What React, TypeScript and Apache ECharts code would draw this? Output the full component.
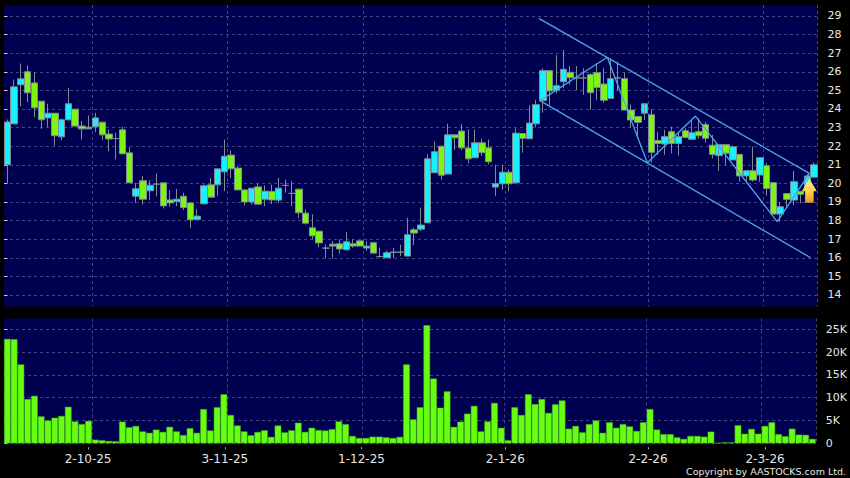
import React, { useEffect, useRef } from "react";
import * as echarts from "echarts";

const opens = [21.0,23.2,25.3,26.0,25.4,24.42,23.52,23.77,22.5,23.42,23.99,23.08,22.93,23.04,23.29,22.65,22.41,22.88,21.64,19.31,20.14,19.6,19.96,20.03,19.11,19.03,19.31,18.95,18.06,18.9,19.92,19.92,20.62,21.52,20.82,19.65,19.0,19.81,19.15,19.56,19.1,19.89,19.46,19.69,18.4,17.61,17.43,16.52,16.73,16.75,16.43,16.75,16.91,16.52,16.81,16.07,16.0,16.3,16.3,16.09,17.5,17.54,17.88,20.57,22.0,20.5,22.61,22.81,21.9,21.38,22.18,21.91,19.8,19.98,20.6,20.03,22.68,22.4,23.2,24.45,26.06,25.0,25.47,25.97,25.67,25.67,25.85,25.95,25.34,24.57,25.67,25.63,23.94,23.59,23.77,23.69,22.3,22.12,22.78,22.15,22.83,22.37,22.78,23.16,22.05,21.5,22.08,21.26,21.56,20.4,20.68,20.45,20.95,20.04,18.35,19.45,19.1,19.57,19.65,20.33];
const closes = [23.3,25.19,25.62,24.87,24.06,23.42,23.77,22.56,23.42,24.28,23.08,22.93,23.02,23.52,22.61,22.39,22.41,21.59,20.03,19.71,19.15,19.9,19.96,18.79,18.95,19.15,18.7,18.04,18.24,19.87,19.26,20.78,21.46,20.78,19.65,19.0,19.74,18.88,19.58,19.11,19.74,19.89,19.46,18.42,17.86,17.18,16.8,16.52,16.63,16.47,16.86,16.63,16.63,16.63,16.25,16.07,16.27,16.3,16.3,17.24,17.33,17.76,21.32,21.7,20.44,22.61,22.45,21.91,21.32,22.18,21.65,21.16,19.98,20.6,19.98,22.7,22.42,23.24,24.23,26.06,24.97,25.25,26.13,25.68,25.67,25.67,24.88,25.16,24.47,25.63,25.67,23.94,23.41,23.28,24.28,21.67,22.15,22.51,22.15,22.51,22.47,22.72,22.56,22.42,21.56,22.08,21.62,21.97,20.4,20.68,20.18,21.38,19.73,18.35,18.74,19.14,20.09,19.41,20.4,21.0];
const lows = [20.03,23.2,24.15,24.37,23.56,22.93,23.04,22.04,22.32,23.42,23.08,22.36,22.93,22.75,22.32,21.73,21.28,21.59,20.03,18.95,18.86,19.1,19.3,18.65,18.74,18.77,18.56,17.59,18.06,18.9,19.26,19.31,19.58,20.3,19.65,18.81,18.86,18.88,18.77,18.88,18.95,19.5,18.78,18.15,17.79,16.99,16.57,15.96,15.96,16.23,16.43,16.54,16.63,16.36,16.25,16.0,16.0,16.0,16.1,16.09,16.68,17.43,17.88,20.57,20.18,20.5,21.79,21.79,21.07,21.38,21.47,21.02,19.32,19.67,19.58,20.03,21.65,22.4,23.02,23.8,24.21,24.84,25.11,25.3,25.02,24.75,23.95,24.48,24.34,24.57,25.0,23.94,23.0,22.42,23.41,21.11,21.53,21.53,21.62,21.5,22.42,22.37,22.4,22.19,21.34,20.68,20.98,21.26,20.09,20.09,20.09,20.09,19.34,18.35,17.94,18.74,18.82,18.93,19.65,20.33];
const highs = [23.43,25.58,26.44,26.34,25.98,24.42,24.28,23.77,23.47,25.14,23.99,23.36,23.65,23.79,23.29,22.9,22.72,23.04,21.96,20.03,20.39,20.17,20.53,20.03,19.63,19.7,19.49,18.95,18.63,19.94,20.3,20.78,22.36,21.75,20.92,19.65,19.74,19.99,19.89,19.94,20.3,20.2,20.12,19.69,18.6,18.33,17.43,16.72,16.9,16.99,17.4,16.99,16.91,16.9,16.81,16.54,16.39,16.54,16.7,18.15,17.61,18.69,21.56,22.24,22.0,23.2,22.61,23.2,22.9,22.9,22.4,22.36,21.0,21.0,20.75,22.95,22.68,24.19,24.48,26.19,26.06,26.9,27.17,26.31,26.31,26.19,25.92,26.45,26.2,26.72,26.54,25.95,24.25,23.59,23.77,23.98,22.78,22.87,23.05,22.78,22.96,23.4,23.5,23.32,22.6,21.5,22.08,22.03,21.56,20.68,21.97,21.38,21.11,20.04,18.98,19.45,20.67,19.57,20.5,21.13];
const volumes = [22.9,22.8,17.3,9.7,10.4,5.9,5.0,5.6,6.0,8.0,4.8,4.2,4.9,0.8,0.65,0.5,0.45,4.75,3.5,3.8,2.6,2.3,3.0,2.5,3.6,2.6,1.8,3.3,2.3,7.5,2.8,7.9,10.75,6.2,3.9,2.6,1.75,2.5,2.85,1.4,3.9,2.4,2.85,4.5,2.5,3.4,2.9,2.8,3.1,4.8,4.2,1.6,1.15,1.15,1.45,1.45,1.3,1.15,1.4,17.3,5.25,7.9,25.9,14.2,7.8,11.4,3.6,4.75,6.5,8.2,2.6,4.8,8.85,3.4,0.65,7.9,6.2,10.75,8.6,9.7,6.65,8.55,9.4,3.2,3.8,2.4,4.2,5.0,2.3,4.6,3.4,4.2,3.7,2.7,4.6,7.5,3.0,2.0,2.0,1.3,0.95,1.6,1.6,1.45,2.55,0.1,0.2,0.2,3.95,2.1,3.15,2.1,3.8,4.6,2.0,1.55,3.2,1.9,1.85,0.95];

const priceTicks = [14,15,16,17,18,19,20,21,22,23,24,25,26,27,28,29];
const volumeTicks = [0,5,10,15,20,25];
const dateLabels = ["2-10-25","3-11-25","1-12-25","2-1-26","2-2-26","2-3-26"];
const dateTickSlots = [12.43,32.64,52.85,74.1,95.2,112.5];
const gridSlots = [13,33,53,74,95,112];

const channelUpper = [[78.9,28.87],[118.8,20.54]];
const channelLower = [[79.06,24.45],[119.0,16.0]];
const zigzag = [[79.06,24.45],[88.99,26.78],[94.9,21.11],[102,23.62],[114.06,17.94],[118.8,20.54]];
const arrowPoint = [[118.8,19.6]];

const PLOT = "#000050";
const GRIDLINE = "#44447c";
const TEXT = "#e6e6e6";
const FONT = "'DejaVu Sans', sans-serif";
const LINE = "#4aa8e0";

const categories = opens.map((_, i) => String(i));
const candles = opens.map((o, i) => [o, closes[i], lows[i], highs[i]]);
const dashed = { color: GRIDLINE, type: [3, 3] as any, width: 1 };

const overlay = (data: number[][]) => ({
  type: "line" as const,
  xAxisIndex: 2,
  yAxisIndex: 0,
  data,
  symbol: "none",
  silent: true,
  lineStyle: { color: LINE, width: 1.3 },
  z: 5,
});

export default function App() {
  const ref = useRef<HTMLDivElement>(null);
  useEffect(() => {
    document.body.style.margin = "0";
    document.body.style.background = "#000";
    const chart = echarts.init(ref.current!, undefined, { renderer: "svg" });
    const grids = [
      { left: 4, top: 5, width: 813.5, height: 301.5 },
      { left: 4, top: 318.5, width: 813.5, height: 124.8 },
    ];
    const catAxis = (gridIndex: number) => ({
      type: "category" as const,
      gridIndex,
      data: categories,
      boundaryGap: true,
      axisLine: { show: false },
      axisTick: { show: false },
      axisLabel: { show: false },
      splitLine: {
        show: true,
        lineStyle: dashed,
        interval: (i: number) => gridSlots.includes(i),
      },
    });
    const yLabel = {
      color: TEXT,
      fontFamily: FONT,
      fontSize: 11,
      margin: 6,
      padding: [2, 0, 0, 0],
    };
    chart.setOption({
      animation: false,
      backgroundColor: "#000",
      grid: grids.map((g) => ({ ...g, show: true, backgroundColor: PLOT, borderWidth: 0 })),
      xAxis: [
        catAxis(0),
        catAxis(1),
        { type: "value", gridIndex: 0, min: 0, max: 120, show: false, splitLine: { show: false } },
        {
          type: "value",
          gridIndex: 1,
          min: 0,
          max: 120,
          position: "bottom",
          offset: 4,
          axisLine: { show: false },
          splitLine: { show: false },
          axisTick: { show: true, length: 2, customValues: dateTickSlots, lineStyle: { color: "#b0b0b0" } },
          axisLabel: {
            show: true,
            customValues: dateTickSlots,
            formatter: (v: number) => dateLabels[dateTickSlots.indexOf(v)] ?? "",
            color: TEXT,
            fontFamily: FONT,
            fontSize: 12,
            margin: 6,
            hideOverlap: false,
          },
        },
      ],
      yAxis: [
        {
          type: "value",
          gridIndex: 0,
          position: "right",
          min: 13.38,
          max: 29.59,
          offset: 4,
          axisLine: { show: false },
          axisTick: { show: true, length: 3.5, customValues: priceTicks, lineStyle: { color: "#d0d0d0" } },
          splitLine: { show: true, lineStyle: dashed },
          axisLabel: { ...yLabel, customValues: priceTicks },
        },
        {
          type: "value",
          gridIndex: 1,
          position: "right",
          min: 0,
          max: 27.37,
          offset: 4,
          axisLine: { show: false },
          axisTick: { show: true, length: 3.5, customValues: volumeTicks, lineStyle: { color: "#d0d0d0" } },
          splitLine: { show: true, lineStyle: dashed },
          axisLabel: {
            ...yLabel,
            customValues: volumeTicks,
            formatter: (v: number) => (v === 0 ? "0" : `${v}K`),
          },
        },
      ],
      graphic: [
        {
          type: "text",
          right: 4,
          top: 466,
          style: {
            text: "Copyright by AASTOCKS.com Ltd.",
            fill: TEXT,
            font: `9.5px ${FONT}`,
          },
        },
      ],
      series: [
        {
          type: "candlestick",
          xAxisIndex: 0,
          yAxisIndex: 0,
          data: candles,
          barWidth: 7,
          itemStyle: {
            color: "#19f0ff",
            color0: "#7cf515",
            borderColor: "#808c94",
            borderColor0: "#808c94",
            borderColorDoji: "#808c94",
            borderWidth: 1,
          },
          z: 3,
        },
        overlay(channelUpper),
        overlay(channelLower),
        overlay(zigzag),
        {
          type: "scatter",
          xAxisIndex: 2,
          yAxisIndex: 0,
          data: arrowPoint,
          symbol: "path://M7 0L14 12L11 12L11 23L3 23L3 12L0 12Z",
          symbolSize: [15, 24],
          silent: true,
          itemStyle: {
            opacity: 1,
            color: new echarts.graphic.LinearGradient(0, 0, 0, 1, [
              { offset: 0, color: "#fff2a0" },
              { offset: 0.55, color: "#ffd040" },
              { offset: 1, color: "#e89a20" },
            ]),
          },
          z: 6,
        },
        {
          type: "bar",
          xAxisIndex: 1,
          yAxisIndex: 1,
          data: volumes,
          barWidth: 6.6,
          itemStyle: { color: "#66ff11", borderColor: "#46b01a", borderWidth: 0.5 },
        },
        {
          type: "line",
          xAxisIndex: 3,
          yAxisIndex: 1,
          data: [],
          silent: true,
        },
      ],
    });
    return () => chart.dispose();
  }, []);
  return (
    <div
      ref={ref}
      style={{ position: "absolute", left: 0, top: 0, width: 850, height: 478, background: "#000" }}
    />
  );
}
